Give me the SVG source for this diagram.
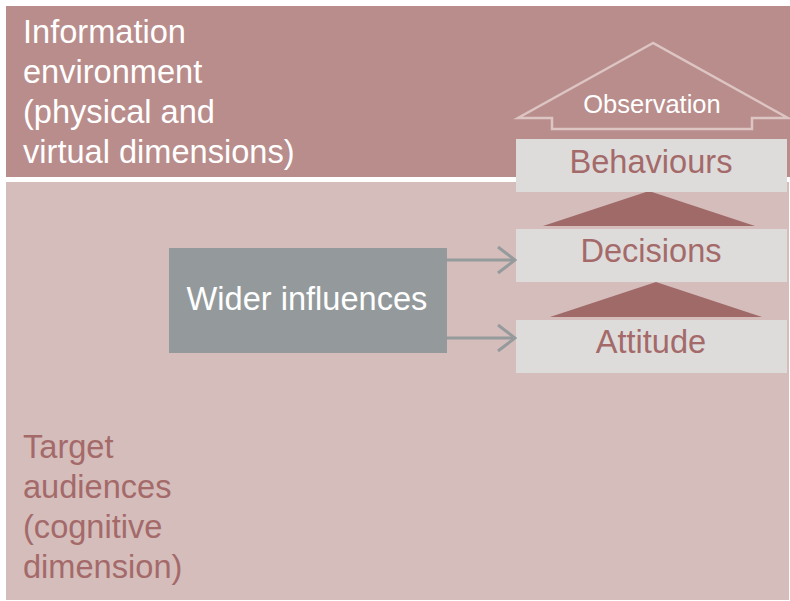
<svg xmlns="http://www.w3.org/2000/svg" width="790" height="601" viewBox="0 0 790 601">
<style>
text{font-family:"Liberation Sans",Arial,sans-serif}
.big{font-size:32.6px}
.white{fill:#ffffff}
.pink{fill:#a46a6a}
.box{fill:#dedcdb}
.tri{fill:#a06a69}
.conn{stroke:#959a9c;stroke-width:3;fill:none}
</style>
<defs>
<marker id="chev" markerUnits="userSpaceOnUse" viewBox="0 0 20 30" refX="18" refY="15" markerWidth="20" markerHeight="30" orient="auto">
<path d="M1 2 L18 15 L1 28" fill="none" stroke="#959a9c" stroke-width="3"/>
</marker>
</defs>
<rect width="790" height="601" fill="#ffffff"/>
<g id="info-env">
<rect x="6" y="6" width="784" height="171" fill="#b98d8b"/>
<text class="big white" x="23" y="43">Information</text>
<text class="big white" x="23" y="83">environment</text>
<text class="big white" x="23" y="123">(physical and</text>
<text class="big white" x="23" y="163">virtual dimensions)</text>
</g>
<g id="target-aud">
<rect x="6" y="182" width="783" height="418" fill="#d5bdbb"/>
<text class="big pink" x="23" y="458">Target</text>
<text class="big pink" x="23" y="498">audiences</text>
<text class="big pink" x="23" y="538">(cognitive</text>
<text class="big pink" x="23" y="578">dimension)</text>
</g>
<g id="observation">
<path d="M653 43 L518 118 L552 118 L552 129 L752 129 L752 118 L788 118 Z" fill="#b98d8b" stroke="#dcc5c3" stroke-width="2.5" stroke-linejoin="miter"/>
<text x="652" y="113" text-anchor="middle" font-size="25.5" class="white">Observation</text>
</g>
<g id="tri-upper">
<polygon class="tri" points="649,191 543,226 755,226"/>
</g>
<g id="tri-lower">
<polygon class="tri" points="656,282 550,317 762,317"/>
</g>
<g id="behaviours">
<rect class="box" x="516" y="139" width="271" height="53"/>
<text class="big pink" x="651" y="173" text-anchor="middle">Behaviours</text>
</g>
<g id="decisions">
<rect class="box" x="516" y="229" width="271" height="53"/>
<text class="big pink" x="651" y="262" text-anchor="middle">Decisions</text>
</g>
<g id="attitude">
<rect class="box" x="516" y="320" width="271" height="53"/>
<text class="big pink" x="651" y="353" text-anchor="middle">Attitude</text>
</g>
<g id="wider">
<rect x="169" y="248" width="278" height="105" fill="#949a9c"/>
<text class="big white" x="307" y="310" text-anchor="middle">Wider influences</text>
</g>
<g id="connectors">
<line class="conn" x1="447" y1="260" x2="515" y2="260" marker-end="url(#chev)"/>
<line class="conn" x1="447" y1="338" x2="515" y2="338" marker-end="url(#chev)"/>
</g>
</svg>
